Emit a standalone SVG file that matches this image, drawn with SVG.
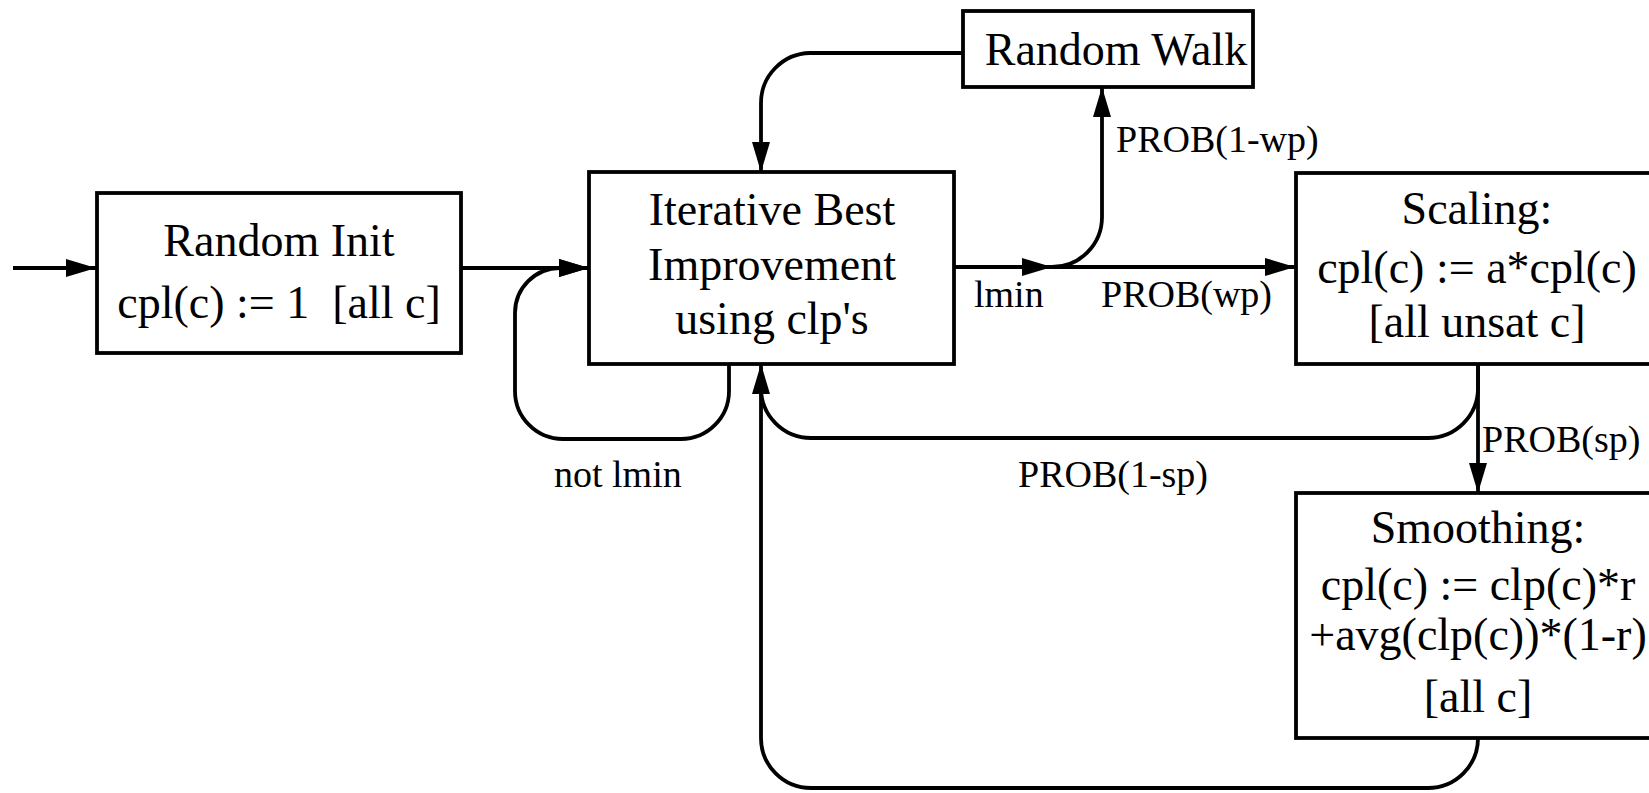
<svg xmlns="http://www.w3.org/2000/svg" width="1649" height="793" viewBox="0 0 1649 793">
<style>
.box{fill:#fff;stroke:#000;stroke-width:3.8}
.t{font-family:"Liberation Serif","Times New Roman",serif;font-size:46px;fill:#000;text-anchor:middle;white-space:pre}
.l{font-family:"Liberation Serif","Times New Roman",serif;font-size:38px;fill:#000}
.e{fill:none;stroke:#000;stroke-width:3.8}
</style>
<defs>
<marker id="arr" viewBox="0 0 30 18" refX="30" refY="9" markerWidth="30" markerHeight="18" markerUnits="userSpaceOnUse" orient="auto">
<path d="M0,0 L30,9 L0,18 z" fill="#000"/>
</marker>
</defs>
<rect width="1649" height="793" fill="#fff"/>
<g id="connectors">
<path class="e" d="M13,268 H96" marker-end="url(#arr)"/>
<path class="e" d="M461,268 H589" marker-end="url(#arr)"/>
<path class="e" d="M729,364 V391 A48,48 0 0 1 681,439 H563 A48,48 0 0 1 515,391 V313 A45,45 0 0 1 560,268 H589" marker-end="url(#arr)"/>
<path class="e" d="M954,267 H1052" marker-end="url(#arr)"/>
<path class="e" d="M1052,267 H1295" marker-end="url(#arr)"/>
<path class="e" d="M1052,267 A50,50 0 0 0 1102,217 V87" marker-end="url(#arr)"/>
<path class="e" d="M963,53 H810 A50,50 0 0 0 761,103 V172" marker-end="url(#arr)"/>
<path class="e" d="M1478,364 V493" marker-end="url(#arr)"/>
<path class="e" d="M1478,364 V388 A50,50 0 0 1 1428,438 H811 A50,50 0 0 1 761,388"/>
<path class="e" d="M1478,738 A50,50 0 0 1 1428,788 H811 A50,50 0 0 1 761,738 V364" marker-end="url(#arr)"/>
</g>
<g id="labels">
<text class="l" x="974" y="307">lmin</text>
<text class="l" x="1101" y="307">PROB(wp)</text>
<text class="l" x="1116" y="152">PROB(1-wp)</text>
<text class="l" x="554" y="487">not lmin</text>
<text class="l" x="1018" y="487">PROB(1-sp)</text>
<text class="l" x="1482" y="452">PROB(sp)</text>
</g>
<g id="random-init">
<rect class="box" x="97" y="193" width="364" height="160"/>
<text class="t" x="279" y="256">Random Init</text>
<text class="t" x="279" y="318">cpl(c) := 1  [all c]</text>
</g>
<g id="iterative-best">
<rect class="box" x="589" y="172" width="365" height="192"/>
<text class="t" x="772" y="225">Iterative Best</text>
<text class="t" x="772" y="280">Improvement</text>
<text class="t" x="772" y="334">using clp's</text>
</g>
<g id="random-walk">
<rect class="box" x="963" y="11" width="290" height="76"/>
<text class="t" x="1116" y="65">Random Walk</text>
</g>
<g id="scaling">
<rect class="box" x="1296" y="173" width="370" height="191"/>
<text class="t" x="1477" y="224">Scaling:</text>
<text class="t" x="1477" y="283">cpl(c) := a*cpl(c)</text>
<text class="t" x="1477" y="337">[all unsat c]</text>
</g>
<g id="smoothing">
<rect class="box" x="1296" y="493" width="370" height="245"/>
<text class="t" x="1478" y="543">Smoothing:</text>
<text class="t" x="1478" y="600">cpl(c) := clp(c)*r</text>
<text class="t" x="1478" y="650">+avg(clp(c))*(1-r)</text>
<text class="t" x="1478" y="712">[all c]</text>
</g>
</svg>
